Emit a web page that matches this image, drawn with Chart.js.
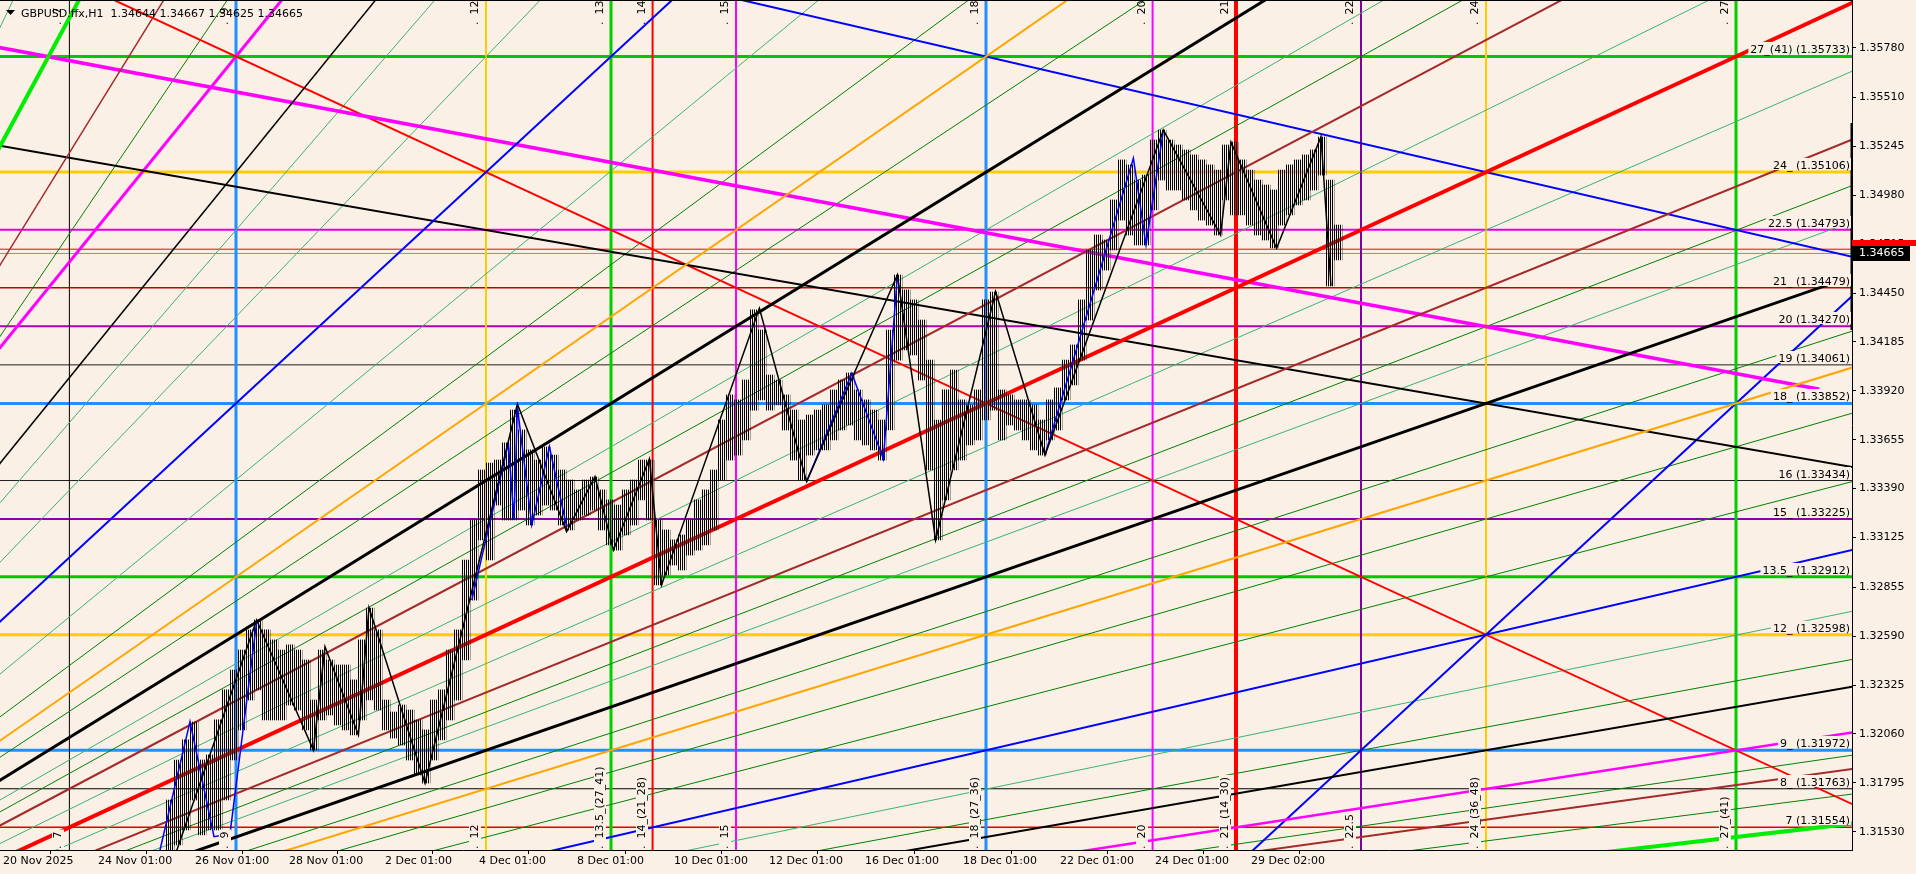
<!DOCTYPE html>
<html>
<head>
<meta charset="utf-8">
<script src="https://cdn.jsdelivr.net/npm/chart.js@4.4.0/dist/chart.umd.min.js"></script>
<style>
  html, body { margin: 0; padding: 0; background: #faf0e6; }
  canvas { display: block; }
</style>
</head>
<body>
<canvas id="myChart" width="1916" height="874"></canvas>
<script>
// time axis is in H1 bars, price axis in GBPUSD quotes
const xTickBars = [1.5, 49, 97.5, 144.5, 192.5, 239.5, 288.5, 337, 384.5, 432.5, 481.5, 530, 577.5, 625.5];
const xTickLabels = ["20 Nov 2025", "24 Nov 01:00", "26 Nov 01:00", "28 Nov 01:00", "2 Dec 01:00", "4 Dec 01:00",
  "8 Dec 01:00", "10 Dec 01:00", "12 Dec 01:00", "16 Dec 01:00", "18 Dec 01:00", "22 Dec 01:00", "24 Dec 01:00", "29 Dec 02:00"];
const yTicks = [1.31530, 1.31795, 1.32060, 1.32325, 1.32590, 1.32855, 1.33125, 1.33390, 1.33655,
  1.33920, 1.34185, 1.34450, 1.34715, 1.34980, 1.35245, 1.35510, 1.35780];

// horizontal levels
const levelPrices = [1.35733, 1.35106, 1.34793, 1.34479, 1.34270, 1.34061, 1.33852, 1.33434, 1.33225, 1.32912, 1.32598, 1.31972, 1.31763, 1.31554];
const levelNames = ["27_(41)", "24_", "22.5", "21_", "20", "19", "18_", "16", "15_", "13.5_", "12_", "9_", "8_", "7"];
const levelColors = ["#00c800", "#ffcc00", "#e000e0", "#c00000", "#b000b0", "#202020", "#1e90ff", "#202020", "#9000a0", "#00c800", "#ffcc00", "#1e90ff", "#000000", "#e00000"];
const levelWidths = [3, 3, 2, 1.5, 2, 1, 3, 1, 2, 3, 3, 3, 1, 1.5];

// vertical time lines
const vBars = [34.7, 118, 243, 305.5, 326.3, 368, 493, 576.3, 618, 680.5, 743, 868];
const vTopLabels = ["7", "9", "12", "13.5", "14", "15", "18", "20", "21", "22.5", "24", "27"];
const vBottomLabels = ["7", "9", "12", "13.5_(27_41)", "14_(21_28)", "15", "18_(27_36)", "20", "21_(14_30)", "22.5", "24_(36_48)", "27_(41)"];
const vColors = ["#000000", "#1e90ff", "#ffcc00", "#00d000", "#ff0000", "#ff00ff", "#1e90ff", "#ff00ff", "#ff0000", "#8000a0", "#ffcc00", "#00d000"];
const vWidths = [1, 3, 2, 3, 2, 2, 3, 2, 4, 2, 2, 3];

// gann fan from one origin, end prices at bar 940
const fanOrigin = { x: -257, y: 1.300909 };
const fanEndBar = 940;
const fanEndPrices = [1.541017, 1.510996, 1.460981, 1.420963, 1.390950, 1.380945, 1.369511, 1.360936,
  1.353433, 1.345929, 1.340927, 1.330923, 1.323419, 1.320918, 1.318917, 1.315916];
const fanColors = ["#00ee00", "#a52a2a", "#000000", "#0000ff", "#ffa500", "#000000", "#a52a2a", "#ff0000",
  "#a52a2a", "#000000", "#ffa500", "#0000ff", "#000000", "#ff00ff", "#a52a2a", "#00ee00"];
const fanWidths = [4, 1.5, 1.5, 2, 2, 3, 2, 4, 2, 3, 2, 2, 2, 2.5, 2, 4];

// thin green fan lines from the same origin
const greenEndPrices = [1.571031, 1.492995, 1.450977, 1.435970, 1.407757, 1.396952, 1.386748, 1.375943,
  1.372941, 1.364958, 1.357184, 1.350911, 1.348931, 1.342928, 1.338426, 1.334674, 1.327561, 1.324920,
  1.319667, 1.317536, 1.314235];
const greenColors = ["#3cb371", "#008000", "#3cb371", "#3cb371", "#3cb371", "#008000", "#008000", "#3cb371",
  "#008000", "#3cb371", "#3cb371", "#008000", "#3cb371", "#008000", "#008000", "#008000", "#3cb371", "#008000",
  "#008000", "#008000", "#3cb371"];

// other trend lines
const trendX1 = [-7, -7, 326.3, 34.7, -7, 618];
const trendY1 = [1.352624, 1.357952, 1.361505, 1.361505, 1.340614, 1.313446];
const trendX2 = [951.3, 909.7, 951.3, 951.3, 159.7, 951.3];
const trendY2 = [1.334602, 1.339293, 1.345833, 1.315536, 1.362905, 1.346878];
const trendColors = ["#000000", "#ff00ff", "#0000ff", "#ff0000", "#ff00ff", "#0000ff"];
const trendWidths = [2, 3.5, 2, 2, 3, 2];

// H1 bars, sampled every 4th bar from bar 85
const candleHigh = [1.31702, 1.31919, 1.32028, 1.32125, 1.31919, 1.31946, 1.32136, 1.32299, 1.32407, 1.32515,
  1.32624, 1.32678, 1.32624, 1.32570, 1.32515, 1.32543, 1.32515, 1.32461, 1.32244, 1.32515,
  1.32461, 1.32434, 1.32434, 1.32353, 1.32570, 1.32743, 1.32624, 1.32244, 1.32179, 1.32217,
  1.32190, 1.32136, 1.32082, 1.32244, 1.32299, 1.32515, 1.32624, 1.33003, 1.33220, 1.33491,
  1.33529, 1.33545, 1.33638, 1.33816, 1.33708, 1.33600, 1.33545, 1.33616, 1.33572, 1.33491,
  1.33437, 1.33383, 1.33437, 1.33453, 1.33383, 1.33329, 1.33301, 1.33383, 1.33437, 1.33545,
  1.33545, 1.33220, 1.33166, 1.33112, 1.33139, 1.33220, 1.33329, 1.33383, 1.33491, 1.33762,
  1.33898, 1.33871, 1.33979, 1.34359, 1.34250, 1.34006, 1.33979, 1.33898, 1.33816, 1.33762,
  1.33789, 1.33816, 1.33844, 1.33925, 1.33979, 1.34017, 1.33925, 1.33871, 1.33816, 1.33762,
  1.34250, 1.34548, 1.34467, 1.34413, 1.34304, 1.34087, 1.33762, 1.33925, 1.34033, 1.33871,
  1.33844, 1.33925, 1.34413, 1.34456, 1.33925, 1.33898, 1.33871, 1.33871, 1.33844, 1.33762,
  1.33871, 1.33936, 1.34087, 1.34169, 1.34413, 1.34684, 1.34765, 1.34738, 1.34955, 1.35172,
  1.35145, 1.35063, 1.35090, 1.35280, 1.35334, 1.35280, 1.35253, 1.35226, 1.35199, 1.35172,
  1.35145, 1.35117, 1.35253, 1.35269, 1.35172, 1.35117, 1.35063, 1.35036, 1.35009, 1.35117,
  1.35145, 1.35172, 1.35199, 1.35226, 1.35296, 1.35063, 1.34819];
const candleLow = [1.31323, 1.31458, 1.31540, 1.31702, 1.31513, 1.31540, 1.31540, 1.31702, 1.31919, 1.32082,
  1.32244, 1.32299, 1.32136, 1.32136, 1.32136, 1.32217, 1.32190, 1.32082, 1.31973, 1.32136,
  1.32163, 1.32109, 1.32082, 1.32055, 1.32136, 1.32244, 1.32190, 1.32082, 1.32038, 1.32000,
  1.31919, 1.31838, 1.31794, 1.31919, 1.32028, 1.32136, 1.32244, 1.32461, 1.32786, 1.33112,
  1.33003, 1.33301, 1.33220, 1.33220, 1.33274, 1.33193, 1.33247, 1.33301, 1.33274, 1.33193,
  1.33166, 1.33220, 1.33247, 1.33274, 1.33166, 1.33085, 1.33057, 1.33139, 1.33193, 1.33329,
  1.33220, 1.32868, 1.32922, 1.32976, 1.32949, 1.33030, 1.33057, 1.33085, 1.33166, 1.33437,
  1.33545, 1.33572, 1.33654, 1.33816, 1.33871, 1.33816, 1.33844, 1.33708, 1.33545, 1.33437,
  1.33572, 1.33600, 1.33600, 1.33654, 1.33708, 1.33735, 1.33654, 1.33627, 1.33600, 1.33545,
  1.33708, 1.34087, 1.34142, 1.34115, 1.33979, 1.33491, 1.33112, 1.33329, 1.33491, 1.33545,
  1.33627, 1.33654, 1.33762, 1.33816, 1.33654, 1.33735, 1.33708, 1.33654, 1.33600, 1.33572,
  1.33654, 1.33708, 1.33871, 1.33952, 1.34087, 1.34304, 1.34467, 1.34575, 1.34684, 1.34846,
  1.34765, 1.34711, 1.34711, 1.34901, 1.35063, 1.35009, 1.35009, 1.34955, 1.34901, 1.34846,
  1.34819, 1.34765, 1.34955, 1.34874, 1.34874, 1.34819, 1.34765, 1.34738, 1.34695, 1.34819,
  1.34874, 1.34928, 1.34955, 1.35009, 1.35090, 1.34489, 1.34630];
const candleFirstBar = 85;
const candleStep = 4;

// zigzag swings
const zigBars = [85, 128.3, 156.7, 162.5, 179.2, 184.5, 212.5, 258.7, 283.3, 297.5, 306.7, 324.7, 330.8,
  379.7, 403.3, 448.7, 467.8, 497.8, 522.5, 581.7, 610.3, 615.5, 638.3, 660.5, 665.5];
const zigPrices = [1.31323, 1.32678, 1.31973, 1.32533, 1.32055, 1.32745, 1.31793, 1.33849, 1.33157, 1.33455,
  1.33057, 1.33551, 1.32868, 1.34368, 1.33428, 1.34548, 1.33112, 1.34458, 1.33572, 1.35334,
  1.34765, 1.35268, 1.34693, 1.35298, 1.34489];
const minorBars = [80, 95, 107, 115, 128.3, null, 235.9, 254.2, 257, 258.7, 265.9, 274.7, 283.3, null,
  403.3, 425.9, 441.7, 448.7, null, 522.5, 566.7, 573, 581.7];
const minorPrices = [1.31431, 1.32127, 1.31503, 1.31518, 1.32667, null, 1.32786, 1.33636, 1.33220, 1.33834,
  1.33193, 1.33617, 1.33184, null, 1.33428, 1.34015, 1.33551, 1.34548, null, 1.33572, 1.35181, 1.34711, 1.35334];

const lastPrice = 1.34665;
const askPrice = 1.34715;
const redLinePrice = 1.34688;
const dayRange = [1.34250, 1.35372];
const headerText = "GBPUSD.ffx,H1  1.34644 1.34667 1.34625 1.34665";

const BG = "#faf0e6";
const FONT = '11px "DejaVu Sans"';
const X_MAX = 926;

// 1px on / 1px off stripes so each sampled bar reads as a run of H1 bars
function hatch() {
  const c = document.createElement("canvas");
  c.width = 2; c.height = 1;
  const g = c.getContext("2d");
  g.fillStyle = "#000";
  g.fillRect(0, 0, 1, 1);
  return g.createPattern(c, "repeat");
}

const datasets = [];
function addSegment(x1, y1, x2, y2, color, width, order) {
  datasets.push({
    type: "line",
    data: [{ x: x1, y: y1 }, { x: x2, y: y2 }],
    borderColor: color,
    borderWidth: width,
    pointRadius: 0,
    fill: false,
    order: order,
  });
}

levelPrices.forEach((p, i) => addSegment(0, p, X_MAX, p, levelColors[i], levelWidths[i], 8));
addSegment(0, redLinePrice, X_MAX, redLinePrice, "#ff0000", 1, 8);
addSegment(0, lastPrice, X_MAX, lastPrice, "#909090", 1, 8);
vBars.forEach((b, i) => addSegment(b, 1.30, b, 1.37, vColors[i], vWidths[i], 7));
greenEndPrices.forEach((p, i) => addSegment(fanOrigin.x, fanOrigin.y, fanEndBar, p, greenColors[i], 1, 6));
fanEndPrices.forEach((p, i) => addSegment(fanOrigin.x, fanOrigin.y, fanEndBar, p, fanColors[i], fanWidths[i], 5));
trendY1.forEach((p, i) => addSegment(trendX1[i], p, trendX2[i], trendY2[i], trendColors[i], trendWidths[i], 5));
addSegment(X_MAX, dayRange[0], X_MAX, dayRange[1], "#000000", 3, 1);

datasets.push({
  type: "bar",
  data: candleHigh.map((h, i) => ({ x: candleFirstBar + i * candleStep, y: [candleLow[i], h] })),
  backgroundColor: hatch(),
  borderWidth: 0,
  barThickness: 8,
  grouped: false,
  order: 4,
});
datasets.push({
  type: "line",
  data: minorBars.map((b, i) => (b === null ? { x: null, y: null } : { x: b, y: minorPrices[i] })),
  borderColor: "#0000ff",
  borderWidth: 1.5,
  pointRadius: 0,
  spanGaps: false,
  order: 3,
});
datasets.push({
  type: "line",
  data: zigBars.map((b, i) => ({ x: b, y: zigPrices[i] })),
  borderColor: "#000000",
  borderWidth: 1.5,
  pointRadius: 0,
  order: 2,
});

function textBox(ctx, text, x, y, align) {
  const w = ctx.measureText(text).width;
  const left = align === "right" ? x - w : x;
  ctx.fillStyle = BG;
  ctx.fillRect(left - 2, y - 11, w + 3, 12);
  ctx.fillStyle = "#000";
  ctx.textAlign = align;
  ctx.fillText(text, x, y);
}

const overlay = {
  id: "overlay",
  beforeDraw(chart) {
    const ctx = chart.ctx;
    ctx.save();
    ctx.fillStyle = BG;
    ctx.fillRect(0, 0, chart.width, chart.height);
    ctx.restore();
  },
  afterDatasetsDraw(chart) {
    const { ctx, chartArea: a, scales: { x, y } } = chart;
    ctx.save();
    ctx.beginPath();
    ctx.rect(a.left, a.top, a.right - a.left, a.bottom - a.top);
    ctx.clip();
    ctx.font = FONT;
    ctx.textBaseline = "alphabetic";

    // level captions
    levelPrices.forEach((p, i) => {
      const py = Math.round(y.getPixelForValue(p));
      textBox(ctx, levelNames[i] + " (" + p.toFixed(5) + ")", a.right - 2, py - 3, "right");
    });

    // vertical line captions
    vBars.forEach((b, i) => {
      const px = Math.round(x.getPixelForValue(b));
      const bottomText = ".  " + vBottomLabels[i];
      ctx.save();
      ctx.translate(px - 5, a.bottom - 1);
      ctx.rotate(-Math.PI / 2);
      const w = ctx.measureText(bottomText).width;
      ctx.fillStyle = BG;
      ctx.fillRect(0, -12, w + 2, 12);
      ctx.fillStyle = "#000";
      ctx.textAlign = "left";
      ctx.fillText(bottomText, 0, -3);
      ctx.restore();

      ctx.save();
      ctx.translate(px - 5, a.top + 25);
      ctx.rotate(-Math.PI / 2);
      ctx.fillStyle = "#000";
      ctx.textAlign = "left";
      ctx.fillText(".  " + vTopLabels[i], 0, -3);
      ctx.restore();
    });

    // header
    ctx.fillStyle = "#000";
    ctx.beginPath();
    ctx.moveTo(6, 10); ctx.lineTo(15, 10); ctx.lineTo(10.5, 15); ctx.closePath();
    ctx.fill();
    ctx.textAlign = "left";
    ctx.fillText(headerText, 21, 17);
    ctx.restore();

    // frame top
    ctx.save();
    ctx.strokeStyle = "#000";
    ctx.lineWidth = 1;
    ctx.beginPath();
    ctx.moveTo(a.left, a.top + 0.5);
    ctx.lineTo(a.right, a.top + 0.5);
    ctx.stroke();

    // price boxes on the scale
    ctx.font = FONT;
    const askY = y.getPixelForValue(askPrice);
    ctx.fillStyle = "#ff0000";
    ctx.fillRect(a.right, Math.round(askY) - 4, 64, 6);
    const lastY = y.getPixelForValue(lastPrice);
    ctx.fillStyle = "#000";
    ctx.fillRect(a.right, Math.round(lastY) - 7, 58, 15);
    ctx.fillStyle = "#fff";
    ctx.textAlign = "left";
    ctx.textBaseline = "middle";
    ctx.fillText(lastPrice.toFixed(5), a.right + 7, Math.round(lastY) + 0.5);
    ctx.restore();
  },
};

new Chart(document.getElementById("myChart"), {
  type: "line",
  data: { datasets: datasets },
  options: {
    responsive: false,
    animation: false,
    devicePixelRatio: 1,
    layout: { padding: 0, autoPadding: false },
    plugins: { legend: { display: false }, tooltip: { enabled: false } },
    elements: { line: { tension: 0 } },
    scales: {
      x: {
        type: "linear",
        min: 0,
        max: X_MAX,
        offset: false,
        afterBuildTicks: (axis) => { axis.ticks = xTickBars.map((v) => ({ value: v })); },
        afterFit: (axis) => { axis.height = 24; axis.paddingLeft = 0; axis.paddingRight = 0; },
        ticks: {
          autoSkip: false,
          maxRotation: 0,
          minRotation: 0,
          align: "start",
          padding: 1,
          color: "#000",
          font: { family: "DejaVu Sans", size: 11 },
          callback: (v, i) => xTickLabels[i],
        },
        grid: { drawOnChartArea: false, drawTicks: true, tickLength: 4, color: "#000" },
        border: { display: true, color: "#000", width: 1 },
      },
      y: {
        type: "linear",
        position: "right",
        min: 1.31431,
        max: 1.36039,
        afterBuildTicks: (axis) => { axis.ticks = yTicks.map((v) => ({ value: v })); },
        afterFit: (axis) => { axis.width = 64; axis.paddingTop = 0; axis.paddingBottom = 0; },
        ticks: {
          autoSkip: false,
          padding: 3,
          color: "#000",
          font: { family: "DejaVu Sans", size: 11 },
          callback: (v) => v.toFixed(5),
        },
        grid: { drawOnChartArea: false, drawTicks: true, tickLength: 4, color: "#000" },
        border: { display: true, color: "#000", width: 1 },
      },
    },
  },
  plugins: [overlay],
});
</script>
</body>
</html>
